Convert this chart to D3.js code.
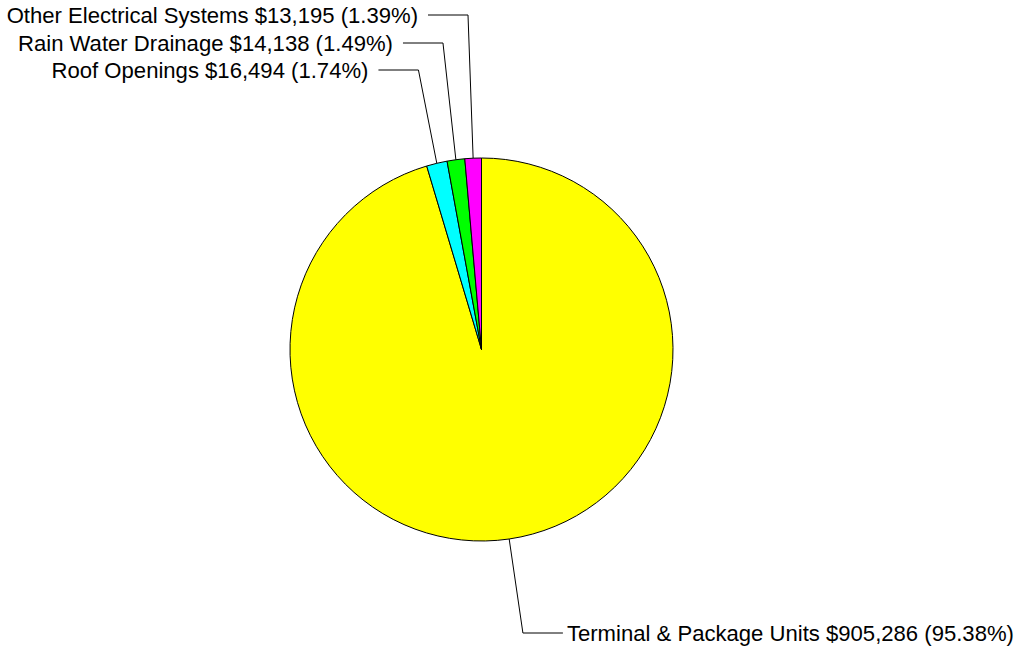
<!DOCTYPE html>
<html>
<head>
<meta charset="utf-8">
<script src="https://cdn.jsdelivr.net/npm/d3@7"></script>
<style>
  html, body { margin: 0; padding: 0; background: #ffffff; }
  svg { display: block; }
  text { font-family: "Liberation Sans", Arial, sans-serif; font-size: 22.1px; fill: #000; }
</style>
</head>
<body>
<svg id="chart" width="1020" height="651"></svg>
<script>
// Cost breakdown by category
const categories = ["Terminal & Package Units", "Roof Openings", "Rain Water Drainage", "Other Electrical Systems"];
const values = [905286, 16494, 14138, 13195];
const colors = ["#ffff00", "#00ffff", "#00ff00", "#ff00ff"];
// vertical position of each label's horizontal leader segment
const labelY = [633, 70, 43, 15];

const width = 1020, height = 651;
const cx = 481.5, cy = 349.5, radius = 191.5;
const total = d3.sum(values);

const data = categories.map((c, i) => ({ name: c, value: values[i], color: colors[i], ly: labelY[i] }));

const svg = d3.select("#chart");
const g = svg.append("g").attr("transform", `translate(${cx},${cy})`);

const pie = d3.pie().sort(null).value(d => d.value);
const arc = d3.arc().innerRadius(0).outerRadius(radius);
const arcs = pie(data);

g.selectAll("path.slice")
  .data(arcs)
  .enter().append("path")
  .attr("class", "slice")
  .attr("d", arc)
  .attr("fill", d => d.data.color)
  .attr("stroke", "#000")
  .attr("stroke-width", 1);

const fmtMoney = d3.format("$,");
const fmtPct = d3.format(".2%");

arcs.forEach(a => {
  const mid = (a.startAngle + a.endAngle) / 2;
  const sx = Math.sin(mid), sy = -Math.cos(mid);
  const x0 = sx * radius, y0 = sy * radius;
  const ey = a.data.ly - cy;
  // leader rises a little steeper than the radius for the thin top slices
  const ex = sx * (ey / sy) * (sy < 0 ? 0.82 : 1) + x0 * (sy < 0 ? 0.18 : 0);
  const right = sx >= 0;
  const hx = ex + (right ? 40 : -40);

  g.append("polyline")
    .attr("points", [[x0, y0], [ex, ey], [hx, ey]].map(p => p.join(",")).join(" "))
    .attr("fill", "none")
    .attr("stroke", "#000")
    .attr("stroke-width", 1);

  g.append("text")
    .attr("x", right ? hx + 4 : hx - 10)
    .attr("y", ey + 8)
    .attr("text-anchor", right ? "start" : "end")
    .text(`${a.data.name} ${fmtMoney(a.data.value)} (${fmtPct(a.data.value / total)})`);
});
</script>
</body>
</html>
